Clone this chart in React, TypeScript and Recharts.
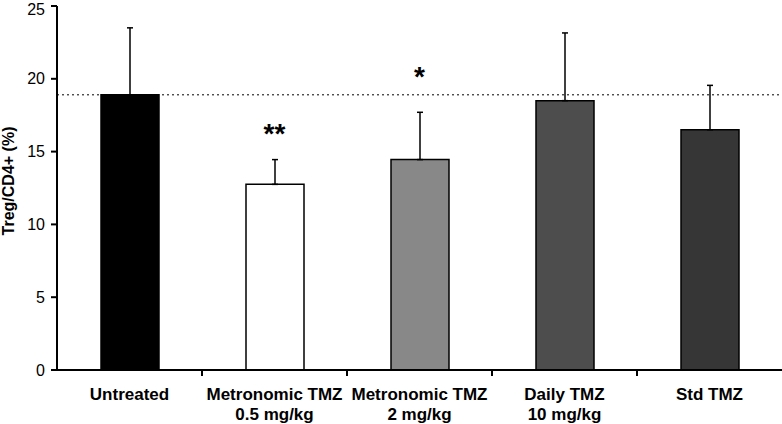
import { Bar, BarChart, Cell, ErrorBar, ReferenceDot, ReferenceLine, XAxis, YAxis } from "recharts";

const groups = [
  "Untreated",
  "Metronomic TMZ\n0.5 mg/kg",
  "Metronomic TMZ\n2 mg/kg",
  "Daily TMZ\n10 mg/kg",
  "Std TMZ",
];
const means = [18.9, 12.75, 14.45, 18.5, 16.5];
const sds = [4.6, 1.7, 3.25, 4.65, 3.05];
const fills = ["#000000", "#ffffff", "#888888", "#4d4d4d", "#363636"];
const sigLabels = ["", "**", "*", "", ""];
const sigLevels = [0, 15.6, 19.5, 0, 0];
const untreatedLevel = 18.9;
const yTicks = [0, 5, 10, 15, 20, 25];

const FONT = "'Liberation Sans', Arial, sans-serif";
const axisStyle = { stroke: "#000", strokeWidth: 2 };

const data = groups.map((g, i) => ({
  group: g,
  mean: means[i],
  err: [0, sds[i]],
}));

// category label, plus a tick mark on the boundary right of the band
function GroupTick({ x, y, payload }: any) {
  const lines = String(payload.value).split("\n");
  const half = payload.offset || 72.5;
  const idx = groups.indexOf(payload.value);
  const axisY = y - 8;
  return (
    <g>
      {idx < groups.length - 1 && (
        <path d={`M${x + half},${axisY}V${axisY + 6}`} stroke="#000" strokeWidth={2} />
      )}
      <text x={x} y={axisY + 30} textAnchor="middle" fontFamily={FONT} fontSize={17} fontWeight="bold" fill="#000">
        {lines.map((l, i) => (
          <tspan key={i} x={x} dy={i === 0 ? 0 : 20}>
            {l}
          </tspan>
        ))}
      </text>
    </g>
  );
}

function StarLabel(props: any) {
  const { viewBox, value } = props;
  const cx = viewBox.x + (viewBox.width || 0) / 2;
  const cy = viewBox.y + (viewBox.height || 0) / 2;
  return (
    <text x={cx} y={cy} textAnchor="middle" fontFamily={FONT} fontSize={28} fontWeight="bold" fill="#000">
      {value}
    </text>
  );
}

function YTitle() {
  return (
    <text
      transform="translate(14,181) rotate(-90)"
      textAnchor="middle"
      fontFamily={FONT}
      fontSize={16}
      fontWeight="bold"
      fill="#000"
    >
      Treg/CD4+ (%)
    </text>
  );
}

export default function App() {
  return (
    <div style={{ position: "absolute", left: 0, top: 0, background: "#fff" }}>
      <BarChart width={782} height={424} data={data} margin={{ top: 6, right: 0, left: 0, bottom: 0 }}>
        <XAxis dataKey="group" height={54} axisLine={axisStyle} tickLine={false} tick={<GroupTick />} interval={0} />
        <YAxis
          domain={[0, 25]}
          ticks={yTicks}
          width={57}
          axisLine={axisStyle}
          tickLine={axisStyle}
          tickSize={6}
          tickMargin={6}
          tick={{ fontSize: 16, fill: "#000", fontFamily: FONT }}
          label={<YTitle />}
        />
        <ReferenceLine y={untreatedLevel} stroke="#000" strokeDasharray="2 3" strokeWidth={1} />
        <Bar dataKey="mean" barSize={58} stroke="#000" strokeWidth={1.5} isAnimationActive={false}>
          {data.map((_, i) => (
            <Cell key={i} fill={fills[i]} />
          ))}
          <ErrorBar dataKey="err" direction="y" width={3} stroke="#000" strokeWidth={1.5} />
        </Bar>
        {groups.map((g, i) =>
          sigLabels[i] ? (
            <ReferenceDot
              key={g}
              x={g}
              y={sigLevels[i]}
              r={0}
              fill="none"
              stroke="none"
              label={<StarLabel value={sigLabels[i]} />}
            />
          ) : null
        )}
      </BarChart>
    </div>
  );
}
